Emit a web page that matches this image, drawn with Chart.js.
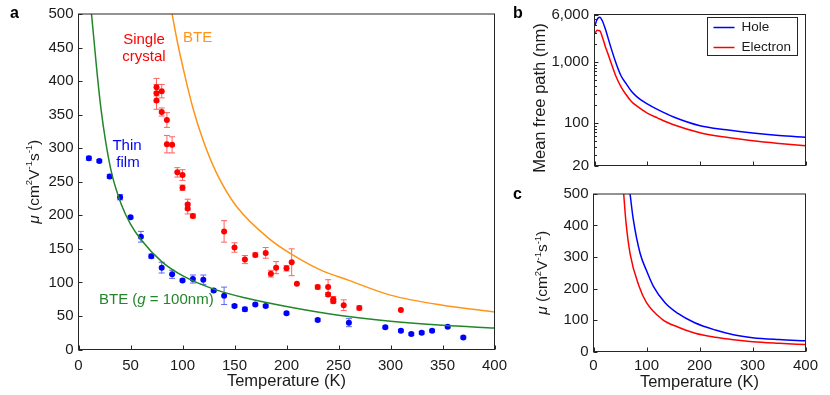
<!DOCTYPE html>
<html>
<head>
<meta charset="utf-8">
<script src="https://cdn.jsdelivr.net/npm/chart.js@4.4.0/dist/chart.umd.min.js"></script>
<style>
  body { margin: 0; background: #fff; }
  #wrap { position: relative; width: 830px; height: 395px; overflow: hidden; }
  canvas { position: absolute; }
</style>
</head>
<body>
<div id="wrap">
  <canvas id="chartA" width="520" height="395" style="left:0;top:0"></canvas>
  <canvas id="chartB" width="330" height="180" style="left:500px;top:0"></canvas>
  <canvas id="chartC" width="330" height="215" style="left:500px;top:180px"></canvas>
</div>
<script>
// Panel a: thin film measurements
const filmT = [10, 20, 30, 40, 50, 60, 70, 80, 90, 100, 110, 120, 130, 140, 150, 160, 170, 180, 200, 230, 260, 295, 310, 320, 330, 340, 355, 370];
const filmMu = [285, 281, 258, 227, 197, 168, 139, 122, 112, 103, 105, 104, 88, 80, 65, 60, 67, 65, 54, 44, 40, 33, 28, 23, 25, 28, 34, 18];
const filmErr = [3, 2, 3, 4, 2, 8, 3, 8, 6, 2, 6, 7, 2, 13, 2, 3, 2, 2, 2, 2, 6, 2, 2, 2, 2, 2, 2, 2];

// Panel a: single crystal measurements
const crystalT = [75, 75, 75, 80, 80, 85, 85, 90, 95, 100, 100, 105, 105, 110, 140, 150, 160, 170, 180, 185, 190, 200, 205, 210, 230, 240, 240, 245, 245, 255, 270, 310];
const crystalMu = [391, 382, 371, 385, 354, 342, 306, 305, 264, 260, 241, 216, 210, 199, 176, 152, 134, 141, 144, 113, 122, 121, 130, 98, 93, 93, 82, 75, 72, 66, 62, 59];
const crystalErr = [13, 13, 13, 10, 6, 11, 13, 12, 7, 8, 4, 8, 8, 3, 16, 7, 6, 3, 8, 5, 9, 4, 20, 0, 3, 11, 3, 4, 3, 8, 3, 0];

// Panel a: BTE curves
const bteT = [90, 95, 102, 110, 120, 133, 152, 185, 206, 232, 260, 300, 350, 400];
const bteMu = [500, 459, 410, 360, 311, 262, 213, 163, 141, 119, 103, 81, 66, 56];
const bteFilmT = [12.5, 15, 18, 21.5, 26, 32, 41, 50, 60, 80, 100, 130, 160, 200, 250, 300, 350, 400];
const bteFilmMu = [500, 459, 410, 360, 311, 262, 217, 187, 164, 131, 110, 90, 77, 64, 51, 42, 36, 32];

// Panel b: mean free path
const mfpT = [1, 5, 10, 15, 20, 25, 30, 40, 50, 60, 70, 80, 100, 120, 150, 200, 250, 300, 350, 400];
const mfpHole = [4000, 5000, 5400, 4700, 3600, 2600, 1850, 1000, 600, 440, 330, 270, 205, 165, 125, 90, 77, 68, 62, 58];
const mfpElectron = [2950, 3300, 3250, 2550, 1850, 1400, 1050, 600, 395, 290, 225, 190, 145, 120, 93, 69, 58, 51, 46, 42];
const mfpTicks = [20, 30, 40, 50, 60, 70, 80, 90, 100, 200, 300, 400, 500, 600, 700, 800, 900, 1000, 2000, 3000, 4000, 5000, 6000];
const mfpTickLabels = { 20: "20", 100: "100", 1000: "1,000", 6000: "6,000" };

// Panel c: computed mobility
const holeT = [69, 75, 88, 100, 113, 135, 160, 190, 230, 264, 300, 350, 400];
const holeMu = [500, 420, 311, 257, 207, 155, 120, 92, 68, 53, 44, 38, 34];
const electronT = [57, 61, 69, 86, 100, 129, 160, 192, 230, 264, 300, 350, 400];
const electronMu = [500, 415, 311, 207, 155, 103, 77, 58, 45, 37, 31, 26, 22];

const BLUE = "#0000ff";
const RED = "#ff0000";
const GREEN = "#23862a";
const ORANGE = "#ff9419";
const AXIS = "#262626";
const FONT = "'Liberation Sans', Arial, sans-serif";

Chart.defaults.font.family = FONT;
Chart.defaults.font.size = 15;
Chart.defaults.color = "#1a1a1a";
Chart.defaults.animation = false;

const F = (size, style) => (style ? style + " " : "") + size + "px " + FONT;
const pts = (xs, ys) => xs.map((x, i) => ({ x: x, y: ys[i] }));

function drawRuns(ctx, runs, x, y, align) {
  let w = 0;
  runs.forEach((r) => { ctx.font = r.font; w += ctx.measureText(r.t).width; });
  let cx = align === "center" ? x - w / 2 : x;
  ctx.textAlign = "left";
  runs.forEach((r) => {
    ctx.font = r.font;
    ctx.fillText(r.t, cx, y + (r.dy || 0));
    cx += ctx.measureText(r.t).width;
  });
}

const muTitle = [
  { t: "μ", font: F(15.5, "italic") },
  { t: " (cm", font: F(15.5) },
  { t: "2", font: F(9.5), dy: -5 },
  { t: "V", font: F(15.5) },
  { t: "-1", font: F(9.5), dy: -5 },
  { t: "s", font: F(15.5) },
  { t: "-1", font: F(9.5), dy: -5 },
  { t: ")", font: F(15.5) },
];

// box, inward ticks, error bars, texts, legend
const decor = {
  id: "decor",
  beforeDatasetsDraw(chart) {
    const { ctx, scales } = chart;
    ctx.save();
    ctx.lineWidth = 1;
    chart.data.datasets.forEach((ds) => {
      if (!ds.errors) return;
      ctx.strokeStyle = ds.errorColor;
      ds.data.forEach((p, i) => {
        const e = ds.errors[i];
        if (!e) return;
        const px = scales.x.getPixelForValue(p.x);
        const y1 = scales.y.getPixelForValue(p.y + e);
        const y2 = scales.y.getPixelForValue(p.y - e);
        ctx.beginPath();
        ctx.moveTo(px, y1); ctx.lineTo(px, y2);
        ctx.moveTo(px - 3, y1); ctx.lineTo(px + 3, y1);
        ctx.moveTo(px - 3, y2); ctx.lineTo(px + 3, y2);
        ctx.stroke();
      });
    });
    ctx.restore();
  },
  afterDraw(chart, args, opts) {
    const { ctx, chartArea: a, scales } = chart;
    ctx.save();
    ctx.strokeStyle = AXIS;
    ctx.lineWidth = 1;
    ctx.strokeRect(a.left, a.top, a.right - a.left, a.bottom - a.top);
    ctx.beginPath();
    scales.x.ticks.forEach((t, i) => {
      const px = Math.round(scales.x.getPixelForTick(i)) + 0.5;
      ctx.moveTo(px, a.bottom); ctx.lineTo(px, a.bottom - 4);
    });
    scales.y.ticks.forEach((t, i) => {
      const py = Math.round(scales.y.getPixelForTick(i)) + 0.5;
      const len = opts.minor && !mfpTickLabels[t.value] ? 2.5 : 4;
      ctx.moveTo(a.left, py); ctx.lineTo(a.left + len, py);
    });
    ctx.stroke();

    // y axis title
    ctx.fillStyle = "#1a1a1a";
    ctx.textBaseline = "middle";
    ctx.translate(a.left - opts.titleOffset, (a.top + a.bottom) / 2 + (opts.titleShift || 0));
    ctx.rotate(-Math.PI / 2);
    drawRuns(ctx, opts.yTitle, 0, 0, "center");
    ctx.setTransform(1, 0, 0, 1, 0, 0);

    ctx.textBaseline = "alphabetic";
    (opts.texts || []).forEach((t) => {
      ctx.fillStyle = t.color;
      drawRuns(ctx, t.runs, t.x, t.y, t.align);
    });

    if (opts.legend) {
      const lg = opts.legend;
      ctx.fillStyle = "#fff";
      ctx.fillRect(lg.x, lg.y, lg.w, lg.h);
      ctx.strokeStyle = AXIS;
      ctx.strokeRect(lg.x, lg.y, lg.w, lg.h);
      ctx.textBaseline = "middle";
      chart.data.datasets.forEach((ds, i) => {
        const yy = lg.y + 10 + i * 20;
        ctx.strokeStyle = ds.borderColor;
        ctx.lineWidth = 1.5;
        ctx.beginPath();
        ctx.moveTo(lg.x + 6, yy); ctx.lineTo(lg.x + 27, yy);
        ctx.stroke();
        ctx.fillStyle = "#1a1a1a";
        ctx.font = F(13.5);
        ctx.fillText(ds.label, lg.x + 34, yy);
      });
    }
    ctx.restore();
  },
};

const noGrid = { display: false, drawTicks: false };
const noBorder = { display: false };

new Chart(document.getElementById("chartA"), {
  type: "scatter",
  data: {
    datasets: [
      { label: "BTE", data: pts(bteT, bteMu), showLine: true, borderColor: ORANGE, borderWidth: 1.5, pointRadius: 0, cubicInterpolationMode: "monotone" },
      { label: "BTE (g = 100nm)", data: pts(bteFilmT, bteFilmMu), showLine: true, borderColor: GREEN, borderWidth: 1.5, pointRadius: 0, cubicInterpolationMode: "monotone" },
      { label: "Single crystal", data: pts(crystalT, crystalMu), errors: crystalErr, errorColor: "#ff6262", pointRadius: 3, pointBackgroundColor: RED, pointBorderWidth: 0 },
      { label: "Thin film", data: pts(filmT, filmMu), errors: filmErr, errorColor: "#5a66ff", pointRadius: 3, pointBackgroundColor: BLUE, pointBorderWidth: 0 },
    ],
  },
  options: {
    responsive: false,
    layout: { padding: { top: 10.5, right: 25.5, left: 0, bottom: 0 } },
    plugins: {
      legend: { display: false },
      tooltip: { enabled: false },
      decor: {
        yTitle: muTitle,
        titleOffset: 44,
        texts: [
          { runs: [{ t: "a", font: F(16, "bold") }], x: 10, y: 18, color: "#000" },
          { runs: [{ t: "Single", font: F(15) }], x: 144, y: 44, align: "center", color: RED },
          { runs: [{ t: "crystal", font: F(15) }], x: 144, y: 61, align: "center", color: RED },
          { runs: [{ t: "BTE", font: F(15) }], x: 183, y: 42, color: ORANGE },
          { runs: [{ t: "Thin", font: F(15) }], x: 127, y: 150, align: "center", color: BLUE },
          { runs: [{ t: "film", font: F(15) }], x: 128, y: 167, align: "center", color: BLUE },
          { runs: [{ t: "BTE (", font: F(15) }, { t: "g", font: F(15, "italic") }, { t: " = 100nm)", font: F(15) }], x: 99, y: 304, color: GREEN },
        ],
      },
    },
    scales: {
      x: {
        type: "linear", min: 0, max: 400,
        ticks: { stepSize: 50, padding: 7, autoSkip: false, maxRotation: 0 },
        grid: noGrid, border: noBorder,
        title: { display: true, text: "Temperature (K)", font: { size: 16.5 }, padding: { top: 0, bottom: 4 } },
        afterFit: (s) => { s.height = 45.5; },
      },
      y: {
        min: 0, max: 500,
        ticks: { stepSize: 50, padding: 5 },
        grid: noGrid, border: noBorder,
        afterFit: (s) => { s.width = 78.5; },
      },
    },
  },
  plugins: [decor],
});

new Chart(document.getElementById("chartB"), {
  type: "scatter",
  data: {
    datasets: [
      { label: "Hole", data: pts(mfpT, mfpHole), showLine: true, borderColor: BLUE, borderWidth: 1.5, pointRadius: 0, cubicInterpolationMode: "monotone" },
      { label: "Electron", data: pts(mfpT, mfpElectron), showLine: true, borderColor: RED, borderWidth: 1.5, pointRadius: 0, cubicInterpolationMode: "monotone" },
    ],
  },
  options: {
    responsive: false,
    layout: { padding: { top: 8.5, right: 24.5, left: 0, bottom: 0 } },
    plugins: {
      legend: { display: false },
      tooltip: { enabled: false },
      decor: {
        yTitle: [{ t: "Mean free path (nm)", font: F(16.5) }],
        titleOffset: 54,
        titleShift: 8,
        minor: true,
        legend: { x: 207.5, y: 17.5, w: 90, h: 38 },
        texts: [{ runs: [{ t: "b", font: F(16, "bold") }], x: 13, y: 18, color: "#000" }],
      },
    },
    scales: {
      x: {
        type: "linear", min: 0, max: 400,
        ticks: { stepSize: 100, display: false },
        grid: noGrid, border: noBorder,
        afterFit: (s) => { s.height = 11.5; },
      },
      y: {
        type: "logarithmic", min: 20, max: 6000,
        afterBuildTicks: (s) => { s.ticks = mfpTicks.map((v) => ({ value: v })); },
        ticks: { padding: 5.5, autoSkip: false, callback: (v) => mfpTickLabels[v] || "" },
        grid: noGrid, border: noBorder,
        afterFit: (s) => { s.width = 94.5; },
      },
    },
  },
  plugins: [decor],
});

new Chart(document.getElementById("chartC"), {
  type: "scatter",
  data: {
    datasets: [
      { label: "Hole", data: pts(holeT, holeMu), showLine: true, borderColor: BLUE, borderWidth: 1.5, pointRadius: 0, cubicInterpolationMode: "monotone" },
      { label: "Electron", data: pts(electronT, electronMu), showLine: true, borderColor: RED, borderWidth: 1.5, pointRadius: 0, cubicInterpolationMode: "monotone" },
    ],
  },
  options: {
    responsive: false,
    layout: { padding: { top: 11.5, right: 24.5, left: 0, bottom: 0 } },
    plugins: {
      legend: { display: false },
      tooltip: { enabled: false },
      decor: {
        yTitle: muTitle,
        titleOffset: 50.5,
        texts: [{ runs: [{ t: "c", font: F(16, "bold") }], x: 13, y: 18.5, color: "#000" }],
      },
    },
    scales: {
      x: {
        type: "linear", min: 0, max: 400,
        ticks: { stepSize: 100, padding: 5, autoSkip: false, maxRotation: 0 },
        grid: noGrid, border: noBorder,
        title: { display: true, text: "Temperature (K)", font: { size: 16.5 }, padding: { top: 0, bottom: 3 } },
        afterFit: (s) => { s.height = 43.5; },
      },
      y: {
        min: 0, max: 500,
        ticks: { stepSize: 100, padding: 5 },
        grid: noGrid, border: noBorder,
        afterFit: (s) => { s.width = 93.5; },
      },
    },
  },
  plugins: [decor],
});
</script>
</body>
</html>
